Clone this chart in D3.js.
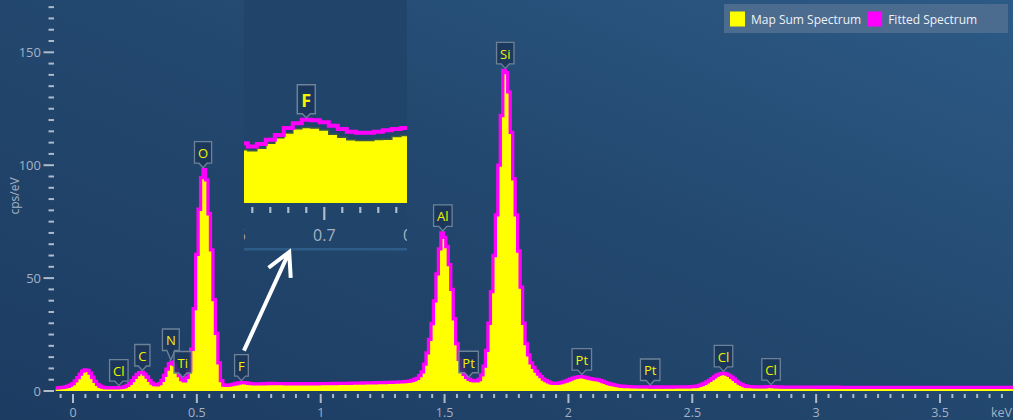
<!DOCTYPE html>
<html><head><meta charset="utf-8">
<script src="https://cdn.jsdelivr.net/npm/d3@7"></script>
<style>
html,body{margin:0;padding:0;background:#1f4068;overflow:hidden}
svg{display:block}
text{font-family:"Open Sans","Noto Sans",sans-serif}
</style></head><body>
<svg id="chart" width="1013" height="420"></svg>
<script>
// ---- DATA ----
const channelStart = -0.07;   // keV, first channel centre
const channelWidth = 0.01;    // keV per channel

const mapSumSpectrum = [
  0.8, 0.8, 0.9, 1.0, 1.2, 1.5, 2.0,
  2.8, 4.0, 5.4, 7.0, 8.3, 9.0, 8.7, 7.4, 5.6, 3.8,
  2.4, 1.6, 1.2, 1.0, 0.9, 0.9, 0.9, 0.9, 0.9, 1.0,
  1.1, 1.4, 2.0, 2.9, 4.1, 5.5, 6.8, 7.6, 7.7, 7.0,
  5.7, 4.2, 3.0, 2.3, 2.2, 2.8, 4.2, 6.4, 9.2, 11.6,
  12.3, 11.2, 8.8, 6.3, 4.6, 4.0, 5.5, 8.5, 18, 36,
  60, 80, 94, 97.5, 93, 78, 62, 40, 25, 12,
  4.0, 2.36, 2.32, 2.43, 2.65, 2.89, 3.10, 3.29, 3.35, 3.33,
  3.24, 3.05, 2.91, 2.80, 2.77, 2.77, 2.81, 2.83, 2.95, 2.99,
  3.0, 3.0, 2.95, 2.9, 2.9, 2.9, 2.85, 2.85, 2.85, 2.85,
  2.85, 2.8, 2.8, 2.85, 2.85, 2.8, 2.8, 2.85, 2.85, 2.85,
  2.85, 2.9, 2.9, 2.9, 2.95, 2.95, 2.95, 3.0, 3.0, 3.0,
  3.0, 3.05, 3.05, 3.1, 3.1, 3.1, 3.15, 3.15, 3.2, 3.2,
  3.2, 3.25, 3.25, 3.3, 3.3, 3.35, 3.4, 3.4, 3.45, 3.5,
  3.55, 3.6, 3.65, 3.7, 3.8, 3.9, 4.1, 4.4, 4.7, 5.2,
  6.4, 8.1, 11.5, 16.5, 22.5, 29.5, 39.5, 51.5, 62.5, 69.5,
  67.5, 63.5, 55.5, 44.5, 31.5, 20.5, 13.5, 9.2, 6.9, 5.5,
  4.7, 4.2, 4.0, 4.0, 4.6, 6.6, 10.5, 17.5, 29.5, 43.5,
  59.5, 77.5, 99.5, 121.5, 141.5, 140.5, 132, 114, 93.5, 77.5,
  61.5, 45.5, 29.5, 20.5, 15.5, 12, 10, 8.3, 7.0, 5.9,
  4.8, 4.1, 3.5, 3.1, 2.9, 2.9, 3.0, 3.2, 3.5, 3.9,
  4.3, 4.8, 5.2, 5.5, 5.8, 5.9, 5.8, 5.5, 5.2, 5.0,
  4.8, 4.6, 4.4, 4.1, 3.7, 3.3, 2.9, 2.6, 2.3, 2.1,
  1.9, 1.7, 1.6, 1.5, 1.4, 1.35, 1.3, 1.3, 1.25, 1.2,
  1.2, 1.2, 1.2, 1.15, 1.15, 1.2, 1.2, 1.2, 1.15, 1.2,
  1.2, 1.2, 1.15, 1.2, 1.2, 1.2, 1.2, 1.25, 1.25, 1.25,
  1.3, 1.4, 1.6, 1.9, 2.3, 2.8, 3.4, 4.1, 4.9, 5.7,
  6.4, 6.9, 7.2, 7.2, 6.9, 6.3, 5.5, 4.6, 3.7, 2.9,
  2.3, 1.8, 1.5, 1.35, 1.3, 1.25, 1.25, 1.2, 1.2, 1.2,
  1.25, 1.3, 1.3, 1.25, 1.2, 1.2, 1.15, 1.15, 1.15, 1.15,
  1.15, 1.1, 1.1, 1.1, 1.1, 1.1, 1.1, 1.1, 1.1, 1.1,
  1.1, 1.1, 1.05, 1.1, 1.1, 1.05, 1.05, 1.05, 1.1, 1.05,
  1.05, 1.05, 1.05, 1.05, 1.05, 1.05, 1.05, 1.0, 1.05, 1.05,
  1.05, 1.0, 1.0, 1.05, 1.0, 1.0, 1.0, 1.0, 1.0, 1.0,
  1.0, 1.0, 0.95, 1.0, 1.0, 1.0, 0.95, 1.0, 1.0, 1.0,
  1.0, 0.95, 1.0, 1.0, 0.95, 1.0, 1.0, 1.0, 0.95, 1.0,
  1.0, 1.0, 0.95, 0.95, 1.0, 1.0, 1.0, 0.95, 1.0, 1.0,
  0.95, 1.0, 1.0, 1.0, 0.95, 1.0, 1.0, 0.95, 1.0, 1.0,
  1.0, 0.95, 1.0, 1.0, 1.0, 0.95, 1.0, 1.0, 0.95, 1.0,
  1.0
];

const fittedSpectrum = [
  1.4, 1.4, 1.5, 1.6, 1.8, 2.1, 2.6,
  3.3, 4.5, 5.9, 7.5, 8.8, 9.4, 9.1, 7.9, 6.1, 4.3,
  2.9, 2.1, 1.7, 1.5, 1.45, 1.4, 1.4, 1.45, 1.45, 1.5,
  1.6, 1.9, 2.5, 3.4, 4.6, 6.0, 7.3, 8.1, 8.2, 7.5,
  6.2, 4.7, 3.5, 2.8, 2.7, 3.3, 4.7, 6.9, 9.7, 12.1,
  12.8, 11.7, 9.3, 6.8, 5.1, 4.5, 6.0, 9.0, 18.5, 36.5,
  60.5, 80.5, 94.5, 98, 93.5, 78.5, 62.5, 40.5, 25.5, 12.5,
  4.6, 2.65, 2.50, 2.62, 2.80, 3.02, 3.32, 3.54, 3.69, 3.67,
  3.58, 3.42, 3.28, 3.16, 3.12, 3.12, 3.16, 3.22, 3.28, 3.32,
  3.33, 3.33, 3.3, 3.27, 3.25, 3.23, 3.22, 3.2, 3.2, 3.2,
  3.2, 3.2, 3.2, 3.2, 3.2, 3.2, 3.2, 3.2, 3.22, 3.22,
  3.25, 3.27, 3.28, 3.3, 3.3, 3.32, 3.33, 3.35, 3.36, 3.38,
  3.4, 3.42, 3.44, 3.46, 3.48, 3.5, 3.52, 3.54, 3.56, 3.58,
  3.6, 3.62, 3.65, 3.68, 3.71, 3.74, 3.77, 3.8, 3.84, 3.88,
  3.92, 3.97, 4.02, 4.08, 4.15, 4.25, 4.4, 4.7, 5.1, 5.6,
  6.8, 8.5, 11.9, 16.9, 22.9, 29.9, 39.9, 51.9, 62.9, 70,
  68, 64, 56, 45, 32, 21, 14, 9.7, 7.4, 6.0,
  5.2, 4.7, 4.5, 4.5, 5.1, 7.1, 11, 18, 30, 44,
  60, 78, 100, 122, 142, 141, 132.5, 114.5, 94, 78,
  62, 46, 30, 21, 16, 12.5, 10.5, 8.8, 7.5, 6.4,
  5.3, 4.6, 4.0, 3.6, 3.4, 3.4, 3.5, 3.7, 4.0, 4.4,
  4.8, 5.3, 5.7, 6.0, 6.3, 6.4, 6.3, 6.0, 5.7, 5.5,
  5.3, 5.1, 4.9, 4.6, 4.2, 3.8, 3.4, 3.1, 2.8, 2.6,
  2.4, 2.2, 2.1, 2.0, 1.95, 1.9, 1.85, 1.85, 1.8, 1.8,
  1.8, 1.8, 1.8, 1.78, 1.78, 1.78, 1.78, 1.78, 1.78, 1.78,
  1.78, 1.78, 1.78, 1.8, 1.8, 1.8, 1.82, 1.84, 1.86, 1.88,
  1.9, 2.0, 2.2, 2.5, 2.9, 3.4, 4.0, 4.7, 5.5, 6.3,
  7.0, 7.5, 7.8, 7.8, 7.5, 6.9, 6.1, 5.2, 4.3, 3.5,
  2.9, 2.4, 2.1, 1.95, 1.9, 1.85, 1.85, 1.85, 1.85, 1.85,
  1.9, 1.95, 1.95, 1.9, 1.85, 1.8, 1.78, 1.76, 1.75, 1.74,
  1.73, 1.72, 1.71, 1.7, 1.7, 1.7, 1.69, 1.69, 1.68, 1.68,
  1.68, 1.67, 1.67, 1.66, 1.66, 1.66, 1.65, 1.65, 1.65, 1.65,
  1.64, 1.64, 1.64, 1.64, 1.63, 1.63, 1.63, 1.63, 1.62, 1.62,
  1.62, 1.62, 1.61, 1.61, 1.61, 1.61, 1.6, 1.6, 1.6, 1.6,
  1.6, 1.6, 1.6, 1.6, 1.6, 1.6, 1.6, 1.6, 1.6, 1.6,
  1.6, 1.6, 1.6, 1.6, 1.6, 1.6, 1.6, 1.6, 1.6, 1.6,
  1.6, 1.6, 1.6, 1.6, 1.6, 1.6, 1.6, 1.6, 1.6, 1.6,
  1.6, 1.6, 1.6, 1.6, 1.6, 1.6, 1.6, 1.6, 1.6, 1.6,
  1.6, 1.6, 1.6, 1.6, 1.6, 1.6, 1.6, 1.6, 1.6, 1.6,
  1.6
];

const peakLabels   = ["Cl", "C", "N", "Ti", "O", "F", "Al", "Pt", "Si", "Pt", "Pt", "Cl", "Cl"];
const peakEnergies = [0.185, 0.28, 0.395, 0.443, 0.525, 0.68, 1.493, 1.597, 1.745, 2.054, 2.33, 2.626, 2.818];

const xTickValues = [0, 0.5, 1, 1.5, 2, 2.5, 3, 3.5];
const xTickLabels = ["0", "0.5", "1", "1.5", "2", "2.5", "3", "3.5"];
const yTickValues = [0, 50, 100, 150];
const yTickLabels = ["0", "50", "100", "150"];
const xUnit = "keV";
const yUnit = "cps/eV";

const seriesNames  = ["Map Sum Spectrum", "Fitted Spectrum"];
const seriesColors = ["#ffff00", "#ff00ff"];

const insetTickValues = [0.6, 0.7, 0.8];
const insetTickLabels = ["0.6", "0.7", "0.8"];
const insetPeakLabel = "F";
const insetPeakEnergy = 0.68;

// ---- CHART ----
const W = 1013, H = 420;
const svg = d3.select("#chart");
const defs = svg.append("defs");
const grad = defs.append("linearGradient").attr("id", "bg")
  .attr("x1", 0).attr("y1", 1).attr("x2", 1).attr("y2", 0);
grad.append("stop").attr("offset", 0).attr("stop-color", "#1d3c62");
grad.append("stop").attr("offset", 0.55).attr("stop-color", "#23486f");
grad.append("stop").attr("offset", 1).attr("stop-color", "#2c5a86");
svg.append("rect").attr("width", W).attr("height", H).attr("fill", "url(#bg)");

const data = mapSumSpectrum.map((m, i) => ({
  e: +(channelStart + i * channelWidth).toFixed(3), m, f: fittedSpectrum[i]
}));

const x = d3.scaleLinear().domain([0, 3.5]).range([73, 940]);
const y = d3.scaleLinear().domain([0, 150]).range([391, 52.3]);

const tickColor = "#aebbcb";
const labelColor = "#a3b2c4";

defs.append("clipPath").attr("id", "plotClip").append("rect")
  .attr("x", 55).attr("y", 0).attr("width", W - 55).attr("height", 391);
const plot = svg.append("g").attr("clip-path", "url(#plotClip)");

plot.append("path").datum(data)
  .attr("d", d3.area().x(d => x(d.e)).y0(y(0)).y1(d => y(d.m)).curve(d3.curveStep))
  .attr("fill", seriesColors[0]);
plot.append("path").datum(data)
  .attr("d", d3.line().x(d => x(d.e)).y(d => y(d.f)).curve(d3.curveStep))
  .attr("fill", "none").attr("stroke", seriesColors[1]).attr("stroke-width", 3.3);

// x ticks
const xt = svg.append("g");
d3.range(-1, 76).forEach(i => {
  const v = i * 0.05, major = i % 10 === 0;
  xt.append("line").attr("x1", x(v)).attr("x2", x(v))
    .attr("y1", 394).attr("y2", major ? 403 : 398)
    .attr("stroke", tickColor).attr("stroke-width", 2);
});
xTickValues.forEach((v, i) => {
  xt.append("text").attr("x", x(v)).attr("y", 416.5).attr("text-anchor", "middle")
    .attr("font-size", 12.5).attr("fill", labelColor)
    .text(xTickLabels[i]);
});
xt.append("text").attr("x", 1012).attr("y", 416.5).attr("text-anchor", "end")
  .attr("font-size", 12.5).attr("fill", labelColor).text(xUnit);

// y ticks
const yt = svg.append("g");
d3.range(0, 35).forEach(i => {
  const v = i * 5, major = i % 10 === 0;
  yt.append("line").attr("x1", major ? 43.5 : 48.5).attr("x2", 54)
    .attr("y1", y(v)).attr("y2", y(v))
    .attr("stroke", tickColor).attr("stroke-width", 2);
});
yTickValues.forEach((v, i) => {
  yt.append("text").attr("x", 41).attr("y", y(v)).attr("text-anchor", "end")
    .attr("dominant-baseline", "central").attr("font-size", 13).attr("fill", labelColor)
    .text(yTickLabels[i]);
});
svg.append("text").attr("transform", "translate(14,196) rotate(-90)")
  .attr("text-anchor", "middle").attr("dominant-baseline", "central")
  .attr("font-size", 12).attr("fill", labelColor).text(yUnit);

// ---- INSET ----
const ix = d3.scaleLinear().domain([0.6, 0.8]).range([234.3, 414.3]);
const iy = d3.scaleLinear().domain([0, 9]).range([203, 0]);
const inset = svg.append("g");
inset.append("rect").attr("x", 244).attr("y", 0).attr("width", 163).attr("height", 248).attr("fill", "#21446b");
inset.append("rect").attr("x", 244).attr("y", 248).attr("width", 163).attr("height", 2.5).attr("fill", "#2d5c88");
defs.append("clipPath").attr("id", "insetClip").append("rect")
  .attr("x", 244).attr("y", 0).attr("width", 163).attr("height", 248);
const ig = inset.append("g").attr("clip-path", "url(#insetClip)");
ig.append("path").datum(data)
  .attr("d", d3.area().x(d => ix(d.e)).y0(iy(0)).y1(d => iy(d.m)).curve(d3.curveStep))
  .attr("fill", seriesColors[0]);
ig.append("path").datum(data)
  .attr("d", d3.line().x(d => ix(d.e)).y(d => iy(d.m)).curve(d3.curveStep))
  .attr("fill", "none").attr("stroke", "#3b5a44").attr("stroke-width", 1.5);
ig.append("path").datum(data)
  .attr("d", d3.line().x(d => ix(d.e)).y(d => iy(d.f)).curve(d3.curveStep))
  .attr("fill", "none").attr("stroke", seriesColors[1]).attr("stroke-width", 4);
d3.range(30, 41).forEach(i => {
  const v = i * 0.02, major = i % 5 === 0;
  ig.append("line").attr("x1", ix(v)).attr("x2", ix(v))
    .attr("y1", 207).attr("y2", major ? 220 : 213)
    .attr("stroke", tickColor).attr("stroke-width", 2.2);
});
insetTickValues.forEach((v, i) => {
  ig.append("text").attr("x", ix(v)).attr("y", 235).attr("text-anchor", "middle")
    .attr("dominant-baseline", "central").attr("font-size", 16).attr("fill", labelColor)
    .text(insetTickLabels[i]);
});

function peakValue(E) {
  return d3.max(data.filter(d => Math.abs(d.e - E) <= 0.0061), d => d.f);
}
function labelPath(l, r, top, bottom, cx, tip) {
  return `M${l},${top}H${r}V${bottom}H${cx + 4}L${cx},${tip}L${cx - 4},${bottom}H${l}Z`;
}

// inset label
{
  const cx = ix(insetPeakEnergy), tip = iy(peakValue(insetPeakEnergy)) - 2;
  const bottom = tip - 4, top = bottom - 29;
  ig.append("path").attr("d", labelPath(cx - 9, cx + 9, top, bottom, cx, tip))
    .attr("fill", "#1a3558").attr("fill-opacity", 0.85).attr("stroke", "#6d8299").attr("stroke-width", 1.5);
  ig.append("text").attr("x", cx).attr("y", (top + bottom) / 2 + 1).attr("text-anchor", "middle")
    .attr("dominant-baseline", "central").attr("font-size", 18).attr("font-weight", "bold")
    .attr("fill", "#f4f400").text(insetPeakLabel);
}

// ---- PEAK LABELS ----
const lg = svg.append("g");
const items = peakLabels.map((t, i) => {
  const E = peakEnergies[i];
  return { t, E, cx: x(E), tip: y(peakValue(E)) - 2 };
});
const tmp = lg.append("text").attr("font-size", 13);
items.forEach(it => { tmp.text(it.t); it.w = tmp.node().getComputedTextLength() + 7; });
tmp.remove();
const placed = [];
items.slice().sort((a, b) => b.tip - a.tip).forEach(it => {
  it.bottom = it.tip - 4.5; it.top = it.bottom - 21.5;
  it.l = it.cx - it.w / 2; it.r = it.cx + it.w / 2;
  let moved = true;
  while (moved) {
    moved = false;
    for (const p of placed) {
      if (it.l < p.r && it.r > p.l && it.top < p.bottom && it.bottom > p.top) {
        it.bottom = p.top - 1; it.top = it.bottom - 21.5; moved = true;
      }
    }
  }
  placed.push(it);
});
items.forEach(it => {
  lg.append("path").attr("d", labelPath(it.l, it.r, it.top, it.bottom, it.cx, it.tip))
    .attr("fill", "#1a3558").attr("fill-opacity", 0.8).attr("stroke", "#6d8299").attr("stroke-width", 1.3);
  lg.append("text").attr("x", it.cx).attr("y", (it.top + it.bottom) / 2 + 0.5).attr("text-anchor", "middle")
    .attr("dominant-baseline", "central").attr("font-size", 13).attr("fill", "#f2f200").text(it.t);
});

// ---- ARROW ----
{
  const f = items.find(it => it.t === "F");
  const tail = [f.cx + 2.5, f.top - 4];
  const tip = [ix(0.661), 252];
  const dx = tip[0] - tail[0], dy = tip[1] - tail[1], len = Math.hypot(dx, dy);
  const ux = dx / len, uy = dy / len, a = 28 * Math.PI / 180, hl = 26;
  const wing = s => [tip[0] - hl * (ux * Math.cos(a) - s * uy * Math.sin(a)),
                     tip[1] - hl * (uy * Math.cos(a) + s * ux * Math.sin(a))];
  const w1 = wing(1), w2 = wing(-1);
  svg.append("path").attr("d", `M${tail}L${tip}M${w1}L${tip}L${w2}`)
    .attr("fill", "none").attr("stroke", "#ffffff").attr("stroke-width", 4)
    .attr("stroke-linecap", "butt").attr("stroke-linejoin", "miter");
}

// ---- LEGEND ----
{
  const lgd = svg.append("g");
  lgd.append("rect").attr("x", 724).attr("y", 4).attr("width", 284).attr("height", 29).attr("fill", "#4b6b8f");
  let cx = 730;
  seriesNames.forEach((n, i) => {
    lgd.append("rect").attr("x", cx).attr("y", 11.5).attr("width", 15).attr("height", 15).attr("fill", seriesColors[i]);
    const t = lgd.append("text").attr("x", cx + 21).attr("y", 19.5).attr("dominant-baseline", "central")
      .attr("font-size", 12).attr("fill", "#eef2f7").text(n);
    cx = cx + 21 + t.node().getComputedTextLength() + 6;
  });
}
</script>
</body></html>
